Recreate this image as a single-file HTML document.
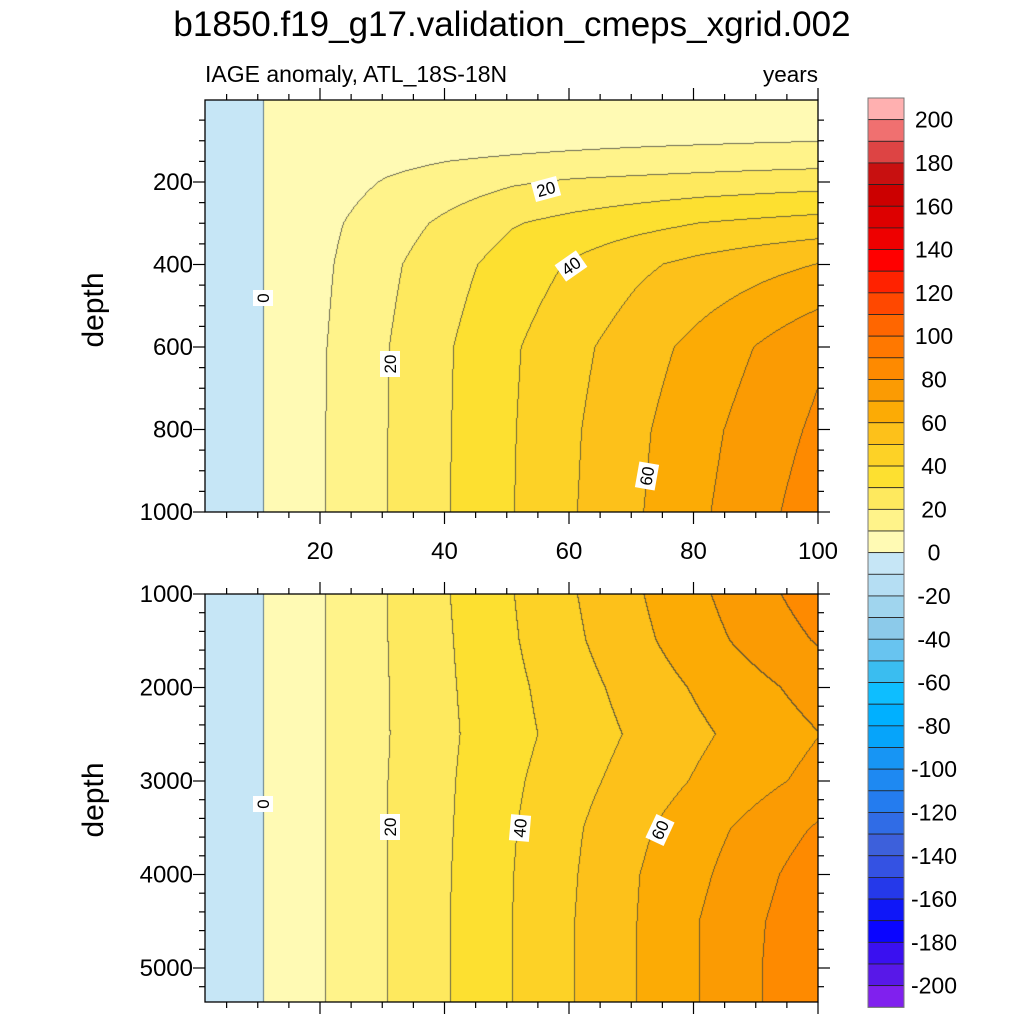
<!DOCTYPE html>
<html><head><meta charset="utf-8"><style>
body{margin:0;background:#fff;}
#root{position:relative;width:1024px;height:1024px;background:#fff;overflow:hidden;font-family:"Liberation Sans",sans-serif;}
canvas{position:absolute;}
svg{position:absolute;left:0;top:0;}
</style></head><body>
<div id="root">
<canvas id="cTop" style="left:205px;top:100px" width="613" height="412"></canvas>
<canvas id="cBot" style="left:205px;top:594px" width="613" height="408"></canvas>
<svg id="ov" width="1024" height="1024">
<text x="512" y="36" font-size="35" text-anchor="middle">b1850.f19_g17.validation_cmeps_xgrid.002</text>
<text x="205" y="82" font-size="23">IAGE anomaly, ATL_18S-18N</text>
<text x="818" y="82" font-size="22.5" text-anchor="end">years</text>
<text transform="translate(103,310) rotate(-90)" font-size="30" text-anchor="middle">depth</text>
<text transform="translate(103,800) rotate(-90)" font-size="30" text-anchor="middle">depth</text>
<g id="axes"></g>
<g id="labels"></g>
<g id="cbar"></g>
</svg>
</div>
<script>
// ---- data ----
const years = [1,11,21,31,41,51,61,71,81,91,101];
const topDepths = [0,50,100,150,200,300,400,600,800,1000];
const topValues = [
 [-1,0,1,1.5,2,2.3,2.6,2.8,3,3.2,3.4],
 [-1,0,2,3,3.7,4.3,4.8,5.2,5.6,6,6.4],
 [-1,0,3,4.5,5.5,6.5,7.3,8,8.6,9.2,9.7],
 [-1,0,4.5,7.5,10,11.5,12.8,14,15,15.8,16.5],
 [-1,0,5.6,10.8,14.8,18.8,21.2,22.5,23.8,25,26],
 [-1,0,7.9,15.3,22.4,29.3,33.1,36.6,40,42,43.8],
 [-1,0,8.8,18,26.6,34.3,41.4,48,52.8,56.8,60.5],
 [-1,0,9.8,19.8,29.5,38.8,47.4,55.4,63.1,71,79],
 [-1,0,10,20,29.8,39.4,49,58,66.7,75,82.5],
 [-1,0,10,20,30,39.7,49.6,59,68.3,77.3,86]
];
const botDepths = [1000,1500,2000,2500,3000,3500,4000,4500,5000,5360];
const botValues = [
 [-1,0,10,20,30,39.7,49.6,59,68.3,77.3,86],
 [-1,0,10,20,29.5,39,48.4,57.3,66.1,74.1,81.5],
 [-1,0,10,19.8,29.1,37.7,46.1,54.1,61.4,68,74.6],
 [-1,0,10,19.7,28.7,36.9,44.5,51.7,58.4,64.6,70.3],
 [-1,0,10,20,29.2,38.3,46.7,54.3,61.2,67.4,73.6],
 [-1,0,10,20,29.5,39.3,48.7,57.9,66,73.8,81.8],
 [-1,0,10,20,29.8,39.8,49.5,59.6,68.1,77.3,86.7],
 [-1,0,10,20,30,40,50,60,70,79.4,88.5],
 [-1,0,10,20,30,40,50,60,70,79.9,89],
 [-1,0,10,20,30,40,50,60,70,79.9,89]
];
const posColors = ["#fffab4","#fff38a","#fee95e","#fde030","#fdd226","#fdc11a","#fcab05","#fb9b03","#fe8a00","#ff7800","#ff6600","#ff4800","#ff2200","#ff0000","#ee0000","#dd0000","#cc0000","#c81010","#dd4444","#f07070","#ffb0b0"];
const negColors = ["#c6e6f6","#b5def3","#a0d5ee","#8ccaea","#68c4f0","#3abdf0","#0ebeff","#00b0ff","#06a4fa","#1795f4","#1e89f2","#247cef","#306ce6","#3d60db","#3452e3","#2539ea","#0f17f8","#0a05ff","#3a10f0","#5818e8","#8020ee"];
const cbarTicks = [200,180,160,140,120,100,80,60,40,20,0,-20,-40,-60,-80,-100,-120,-140,-160,-180,-200];
const xTicks = [20,40,60,80,100];
const topYTicks = [200,400,600,800,1000];
const botYTicks = [1000,2000,3000,4000,5000];

// ---- scales ----
const X0=205, X1=818;
const xPx = yr => 195.5 + yr*6.225;
const pxX = px => (px-195.5)/6.225;
const topY = d => 99.5 + d*0.4125;
const topD = py => (py-99.5)/0.4125;
const botY = d => 594 + (d-1000)*0.0935;
const botD = py => 1000 + (py-594)/0.0935;

function interp(arr, v){
  if(v<=arr[0]) return [0,0];
  for(let i=0;i<arr.length-1;i++){ if(v<=arr[i+1]) return [i,(v-arr[i])/(arr[i+1]-arr[i])]; }
  return [arr.length-2,1];
}
function field(depths, vals, yr, d){
  const [i,fx]=interp(years,yr); const [j,fy]=interp(depths,d);
  const a=vals[j][i], b=vals[j][i+1], c=vals[j+1][i], e=vals[j+1][i+1];
  return (a*(1-fx)+b*fx)*(1-fy)+(c*(1-fx)+e*fx)*fy;
}
function levIdx(v){ return Math.floor(v/10); }
function colorOf(k){
  if(k>=0) return posColors[Math.min(k,20)];
  return negColors[Math.min(-k-1,20)];
}
function hexRgb(h){return [parseInt(h.slice(1,3),16),parseInt(h.slice(3,5),16),parseInt(h.slice(5,7),16)];}

function drawPanel(id, top, h, depths, vals, dOf){
  const cv=document.getElementById(id), ctx=cv.getContext('2d');
  const W=cv.width, H=cv.height;
  const img=ctx.createImageData(W,H);
  const K=new Int16Array(W*H);
  for(let y=0;y<H;y++){ const d=dOf(top+y+0.5);
    for(let x=0;x<W;x++){ const yr=pxX(X0+x+0.5); K[y*W+x]=levIdx(field(depths,vals,yr,d)); } }
  for(let y=0;y<H;y++) for(let x=0;x<W;x++){
    const k=K[y*W+x]; let c=hexRgb(colorOf(k));
    const kr = x<W-1?K[y*W+x+1]:k, kb = y<H-1?K[(y+1)*W+x]:k;
    if(kr!==k||kb!==k){ const zero=(Math.max(k,kr,kb)===0 && Math.min(k,kr,kb)===-1);
      const lc = zero?[70,95,115]:[70,70,60]; const a=0.8;
      c=[c[0]*(1-a)+lc[0]*a,c[1]*(1-a)+lc[1]*a,c[2]*(1-a)+lc[2]*a]; }
    const o=(y*W+x)*4; img.data[o]=c[0];img.data[o+1]=c[1];img.data[o+2]=c[2];img.data[o+3]=255;
  }
  ctx.putImageData(img,0,0);
}
drawPanel('cTop',100,412,topDepths,topValues,topD);
drawPanel('cBot',594,408,botDepths,botValues,botD);

// ---- axes ----
const NS='http://www.w3.org/2000/svg';
const axes=document.getElementById('axes');
function el(tag,attrs,parent){const e=document.createElementNS(NS,tag);for(const k in attrs)e.setAttribute(k,attrs[k]);parent.appendChild(e);return e;}
function line(x1,y1,x2,y2,name){const l=el('line',{x1,y1,x2,y2,stroke:'#000','stroke-width':1.2},axes);
  
  
  return l;}
function panelAxes(yTop,yBot,yPos,majorD,minorStep,dMin,dMax,showX,prefix){
  const fr=el('rect',{x:X0,y:yTop,width:X1-X0,height:yBot-yTop,fill:'none',stroke:'#000','stroke-width':1.3},axes);
  
  
  for(let v=5;v<=100;v+=5){ const x=xPx(v); const L=(v%20===0)?12:6;
    line(x,yTop,x,yTop-L,prefix+'-x-tick-top'); line(x,yBot,x,yBot+L,prefix+'-x-tick-bottom'); }
  for(let d=dMin; d<=dMax; d+=minorStep){ const y=yPos(d); if(y<yTop-0.5||y>yBot+0.5) continue;
    const L=(majorD.includes(d))?12:6; line(X0,y,X0-L,y,prefix+'-y-tick-left'); line(X1,y,X1+L,y,prefix+'-y-tick-right'); }
  majorD.forEach(d=>{ const t=el('text',{x:X0-12,y:yPos(d)+8,'font-size':24,'text-anchor':'end'},axes); t.textContent=d;
    
     });
  if(showX) xTicks.forEach(v=>{ const t=el('text',{x:xPx(v),y:559,'font-size':24,'text-anchor':'middle'},axes); t.textContent=v;
    
     });
}
panelAxes(100,512,topY,topYTicks,50,50,1000,true,'upper');
panelAxes(594,1002,botY,botYTicks,200,1000,5200,false,'lower');

// ---- contour labels ----
const labs=document.getElementById('labels');
const contourLabels=[["0",263,298,-90],["20",390,364,-90],["20",546,189,-15],["40",571,266,-35],["60",647,476,-80],
 ["0",263,804,-90],["20",390,827,-90],["40",520,828,-85],["60",660,830,-65]];
contourLabels.forEach(([s,x,y,r])=>{
  const g=el('g',{transform:`translate(${x},${y}) rotate(${r})`},labs);
  
  
  const w=s.length*10+6;
  el('rect',{x:-w/2,y:-10,width:w,height:20,fill:'#fff'},g);
  const t=el('text',{x:0,y:6,'font-size':17,'text-anchor':'middle'},g); t.textContent=s;
});

// ---- colorbar ----
const cb=document.getElementById('cbar');
const CB_TOP=98, BOX=21.65, CBX=868, CBW=36;
const cbLevels=[]; for(let k=20;k>=-21;k--) cbLevels.push(k);
cbLevels.forEach((k,i)=>{
  const r=el('rect',{x:CBX,y:CB_TOP+i*BOX,width:CBW,height:BOX,fill:colorOf(k),stroke:'#222','stroke-width':0.8},cb);
  
  
});
const cbFrame=el('rect',{x:CBX,y:CB_TOP,width:CBW,height:BOX*42,fill:'none',stroke:'#777','stroke-width':1},cb);


cbarTicks.forEach(v=>{
  const y=CB_TOP+(21-v/10)*BOX- BOX;
  const t=el('text',{x:934,y:y+BOX+8,'font-size':23,'text-anchor':'middle'},cb); t.textContent=v;
  
  
});
</script>
</body></html>
